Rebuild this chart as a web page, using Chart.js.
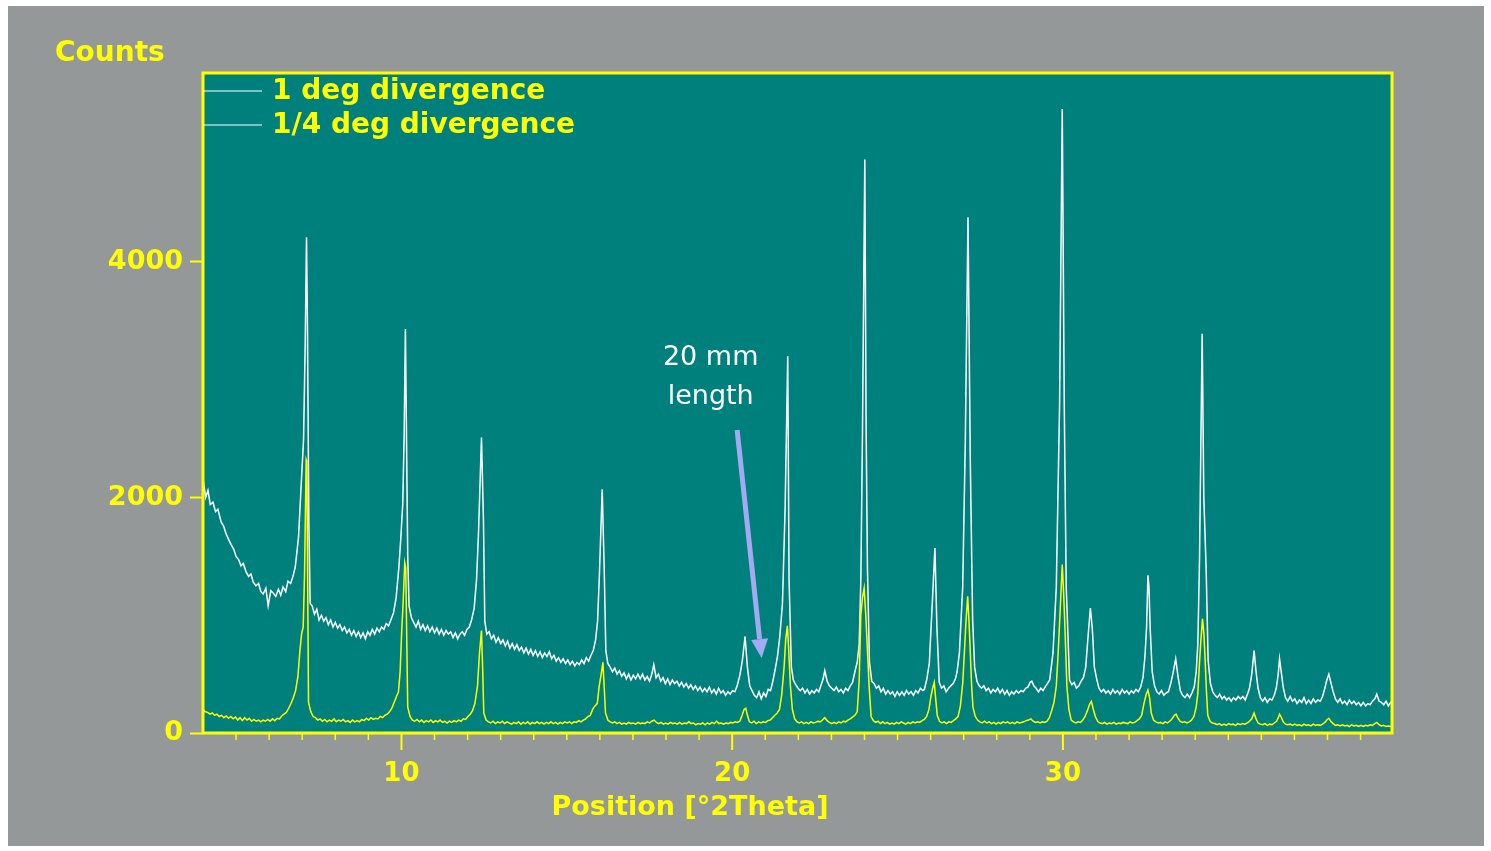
<!DOCTYPE html>
<html>
<head>
<meta charset="utf-8">
<title>XRD divergence comparison</title>
<script src="https://cdn.jsdelivr.net/npm/chart.js@4.4.1/dist/chart.umd.min.js"></script>
<style>
  html, body { margin: 0; padding: 0; background: #ffffff; }
  canvas { display: block; }
</style>
</head>
<body>
<canvas id="xrd" width="1491" height="851" style="width:1491px;height:851px"></canvas>
<script>
// Series names
const seriesLabels = ['1 deg divergence', '1/4 deg divergence'];

// Diffraction pattern, 1 deg divergence slit: [position °2θ, counts]
const oneDegree = [
  [4.00,2160],[4.08,2000],[4.15,2060],[4.22,1940],[4.30,1960],[4.38,1880],[4.45,1900],[4.55,1790],[4.62,1760],[4.70,1690],
  [4.78,1640],[4.85,1600],[4.93,1560],[5.00,1500],[5.08,1470],[5.15,1420],[5.22,1440],[5.30,1370],[5.38,1330],[5.45,1350],
  [5.52,1280],[5.60,1250],[5.68,1270],[5.75,1200],[5.82,1180],[5.90,1230],[5.97,1080],[6.05,1210],[6.12,1190],[6.20,1160],
  [6.28,1220],[6.35,1170],[6.42,1240],[6.50,1200],[6.57,1290],[6.65,1270],[6.72,1330],[6.79,1410],[6.89,1670],[6.96,2060],
  [7.04,2490],[7.09,3300],[7.13,4210],[7.16,3400],[7.20,1800],[7.24,1100],
  [7.30,1080],[7.37,1010],[7.44,1050],[7.51,960],[7.58,1000],[7.65,950],[7.72,980],[7.79,920],[7.86,960],[7.93,900],
  [8.00,940],[8.07,890],[8.14,920],[8.21,870],[8.28,900],[8.35,850],[8.42,880],[8.49,830],[8.56,870],[8.63,820],
  [8.70,860],[8.77,810],[8.84,850],[8.91,800],[8.98,860],[9.05,830],[9.12,880],[9.19,840],[9.26,890],[9.33,860],
  [9.40,900],[9.47,880],[9.54,930],[9.61,910],[9.68,960],[9.76,1020],[9.84,1150],[9.92,1400],[9.98,1650],[10.04,1950],
  [10.08,2500],[10.12,3430],[10.15,2600],[10.19,1500],[10.23,1080],[10.30,980],
  [10.37,940],[10.44,900],[10.51,950],[10.58,880],[10.65,920],[10.72,870],[10.79,910],[10.86,860],[10.93,900],[11.00,850],
  [11.07,890],[11.14,840],[11.21,880],[11.28,830],[11.35,870],[11.42,840],[11.49,860],[11.56,810],[11.63,850],[11.70,800],
  [11.77,840],[11.84,860],[11.91,830],[11.98,880],[12.05,900],[12.12,960],[12.20,1060],[12.27,1300],[12.33,1700],[12.42,2510],
  [12.48,1800],[12.52,950],[12.58,840],[12.65,860],[12.72,800],[12.79,830],[12.86,770],[12.93,810],[13.00,760],[13.07,790],
  [13.14,740],[13.21,780],[13.28,720],[13.35,760],[13.42,710],[13.49,750],[13.56,700],[13.63,730],[13.70,680],[13.77,720],
  [13.84,670],[13.91,710],[13.98,660],[14.05,700],[14.12,650],[14.19,690],[14.26,640],[14.33,680],[14.40,650],[14.47,690],
  [14.54,630],[14.61,660],[14.68,610],[14.75,640],[14.82,600],[14.89,630],[14.96,590],[15.03,620],[15.10,580],[15.17,610],
  [15.24,570],[15.31,600],[15.38,580],[15.45,620],[15.52,590],[15.59,640],[15.66,610],[15.73,660],[15.80,700],[15.87,790],
  [15.93,950],[15.99,1380],[16.07,2070],[16.13,1400],[16.18,700],[16.24,590],[16.31,560],[16.38,520],[16.45,550],[16.52,500],
  [16.59,530],[16.66,480],[16.73,510],[16.80,460],[16.87,500],[16.94,450],[17.01,490],[17.08,460],[17.15,500],[17.22,460],
  [17.29,500],[17.36,450],[17.43,480],[17.50,440],[17.57,500],[17.63,580],[17.70,470],[17.77,500],[17.84,440],[17.91,470],
  [17.98,420],[18.05,460],[18.12,410],[18.19,450],[18.26,420],[18.33,440],[18.40,400],[18.47,430],[18.54,390],[18.61,420],
  [18.68,380],[18.75,410],[18.82,370],[18.89,400],[18.96,360],[19.03,390],[19.10,350],[19.17,380],[19.24,350],[19.31,390],
  [19.38,340],[19.45,370],[19.52,330],[19.59,380],[19.66,340],[19.73,360],[19.80,320],[19.87,350],[19.94,330],[20.01,360],
  [20.08,350],[20.15,400],[20.24,500],[20.31,620],[20.39,820],[20.46,560],[20.53,400],[20.60,360],[20.67,320],[20.74,300],
  [20.81,350],[20.88,290],[20.95,340],[21.02,310],[21.09,370],[21.16,360],[21.23,440],[21.30,540],[21.37,650],[21.44,820],
  [21.52,1100],[21.60,1900],[21.68,3200],[21.72,1300],[21.79,560],[21.85,450],[21.92,410],[21.99,380],[22.06,360],[22.13,380],
  [22.20,340],[22.27,370],[22.34,330],[22.41,360],[22.48,340],[22.55,370],[22.62,350],[22.69,410],[22.75,460],[22.80,530],
  [22.87,440],[22.94,400],[23.01,380],[23.08,360],[23.15,390],[23.22,350],[23.29,370],[23.36,340],[23.43,380],[23.50,360],
  [23.57,400],[23.64,430],[23.71,520],[23.78,600],[23.84,750],[23.89,1300],[23.94,2570],[24.01,4870],[24.05,2600],[24.09,1400],
  [24.15,600],[24.22,440],[24.29,420],[24.36,380],[24.43,400],[24.50,350],[24.57,380],[24.64,330],[24.71,360],[24.78,330],
  [24.85,350],[24.92,310],[24.99,350],[25.06,320],[25.13,350],[25.20,320],[25.27,360],[25.34,330],[25.41,350],[25.48,320],
  [25.55,360],[25.62,340],[25.69,380],[25.76,360],[25.81,370],[25.88,450],[25.96,590],[26.06,1160],[26.13,1570],[26.19,900],
  [26.26,430],[26.33,380],[26.40,400],[26.47,350],[26.54,380],[26.61,400],[26.68,420],[26.75,460],[26.80,520],[26.87,680],
  [26.97,1240],[27.05,2500],[27.13,4380],[27.20,2300],[27.27,960],[27.33,560],[27.40,440],[27.47,400],[27.54,380],[27.61,400],
  [27.68,360],[27.75,380],[27.82,340],[27.89,370],[27.96,350],[28.03,380],[28.10,340],[28.17,370],[28.24,330],[28.31,360],
  [28.38,320],[28.45,350],[28.52,330],[28.59,360],[28.66,340],[28.73,360],[28.80,350],[28.87,380],[28.94,390],[29.01,430],
  [29.06,440],[29.12,400],[29.19,380],[29.26,350],[29.33,380],[29.40,360],[29.46,390],[29.53,420],[29.60,450],[29.70,680],
  [29.80,1240],[29.90,2800],[29.98,5300],[30.04,2800],[30.10,1240],[30.20,450],[30.27,410],[30.34,430],[30.41,380],[30.48,400],
  [30.55,440],[30.62,470],[30.69,560],[30.76,820],[30.83,1060],[30.89,880],[30.95,560],[31.02,460],[31.09,380],[31.16,350],
  [31.23,370],[31.30,340],[31.37,360],[31.44,330],[31.51,370],[31.58,340],[31.65,360],[31.72,330],[31.79,370],[31.86,340],
  [31.93,360],[32.00,330],[32.07,360],[32.14,340],[32.21,370],[32.28,350],[32.35,390],[32.42,470],[32.48,650],[32.53,900],
  [32.57,1340],[32.60,1250],[32.64,880],[32.70,520],[32.77,400],[32.84,350],[32.91,330],[32.98,360],[33.05,320],[33.12,340],
  [33.19,350],[33.26,420],[33.33,510],[33.41,630],[33.48,480],[33.55,360],[33.62,320],[33.69,300],[33.76,330],[33.83,300],
  [33.90,340],[33.97,390],[34.03,520],[34.08,760],[34.13,1470],[34.21,3390],[34.26,2000],[34.33,1400],[34.39,620],[34.46,420],
  [34.53,350],[34.60,320],[34.67,300],[34.74,330],[34.81,290],[34.88,310],[34.95,280],[35.02,300],[35.09,270],[35.16,300],
  [35.23,280],[35.30,310],[35.37,290],[35.44,310],[35.51,280],[35.58,330],[35.64,380],[35.71,500],[35.78,700],[35.84,520],
  [35.90,380],[35.97,300],[36.04,270],[36.11,300],[36.18,260],[36.25,290],[36.32,280],[36.39,320],[36.45,380],[36.51,500],
  [36.55,630],[36.60,520],[36.66,390],[36.73,300],[36.80,270],[36.87,310],[36.94,270],[37.01,290],[37.08,250],[37.15,280],
  [37.22,260],[37.29,300],[37.36,250],[37.43,280],[37.50,250],[37.57,290],[37.64,260],[37.71,280],[37.78,270],[37.85,310],
  [37.92,380],[37.98,450],[38.04,500],[38.10,430],[38.17,350],[38.24,290],[38.31,260],[38.38,290],[38.45,250],[38.52,270],
  [38.59,240],[38.66,280],[38.73,250],[38.80,270],[38.87,240],[38.94,260],[39.01,230],[39.08,260],[39.15,230],[39.22,250],
  [39.29,240],[39.36,270],[39.43,290],[39.49,330],[39.56,270],[39.63,260],[39.70,240],[39.77,270],[39.84,230],[39.91,260],
  [40.00,250]
];

// Diffraction pattern, 1/4 deg divergence slit: [position °2θ, counts]
const quarterDegree = [
  [4.00,200],[4.07,180],[4.14,175],[4.21,160],[4.28,170],[4.35,150],[4.42,160],[4.49,140],[4.56,150],[4.63,130],
  [4.70,145],[4.77,125],[4.84,140],[4.91,120],[4.98,135],[5.05,110],[5.12,130],[5.19,105],[5.26,130],[5.33,110],
  [5.40,125],[5.47,100],[5.54,115],[5.61,100],[5.68,110],[5.75,95],[5.82,110],[5.89,100],[5.96,115],[6.03,100],
  [6.10,120],[6.17,105],[6.24,125],[6.31,120],[6.38,145],[6.45,160],[6.52,175],[6.59,210],[6.66,250],[6.73,300],
  [6.80,360],[6.87,480],[6.93,700],[6.98,840],[7.03,900],[7.07,1350],[7.12,2320],[7.14,2300],[7.19,260],[7.26,180],
  [7.33,140],[7.40,130],[7.47,110],[7.54,120],[7.61,100],[7.68,115],[7.75,95],[7.82,110],[7.89,100],[7.96,120],
  [8.03,95],[8.10,110],[8.17,100],[8.24,115],[8.31,95],[8.38,105],[8.45,90],[8.52,110],[8.59,95],[8.66,105],
  [8.73,95],[8.80,115],[8.87,105],[8.94,125],[9.01,110],[9.08,130],[9.15,115],[9.22,125],[9.29,120],[9.36,140],
  [9.43,130],[9.50,150],[9.57,160],[9.64,180],[9.71,210],[9.78,260],[9.85,310],[9.91,350],[9.96,520],[10.01,880],
  [10.05,1100],[10.10,1445],[10.13,1400],[10.19,220],[10.26,140],[10.33,110],[10.40,100],[10.47,115],[10.54,95],[10.61,110],
  [10.68,90],[10.75,105],[10.82,95],[10.89,110],[10.96,90],[11.03,105],[11.10,95],[11.17,110],[11.24,90],[11.31,100],
  [11.38,85],[11.45,100],[11.52,90],[11.59,105],[11.66,95],[11.73,110],[11.80,100],[11.87,120],[11.94,115],[12.01,140],
  [12.08,160],[12.15,190],[12.22,250],[12.30,400],[12.36,680],[12.42,870],[12.45,600],[12.49,170],[12.56,110],[12.63,95],
  [12.70,85],[12.77,100],[12.84,80],[12.91,95],[12.98,85],[13.05,100],[13.12,80],[13.19,95],[13.26,85],[13.33,75],
  [13.40,90],[13.47,80],[13.54,95],[13.61,75],[13.68,90],[13.75,80],[13.82,95],[13.89,75],[13.96,90],[14.03,80],
  [14.10,95],[14.17,80],[14.24,90],[14.31,75],[14.38,90],[14.45,80],[14.52,95],[14.59,80],[14.66,90],[14.73,75],
  [14.80,90],[14.87,80],[14.94,95],[15.01,85],[15.08,95],[15.15,80],[15.22,95],[15.29,90],[15.36,105],[15.43,95],
  [15.50,110],[15.57,120],[15.64,140],[15.71,150],[15.78,200],[15.85,230],[15.92,250],[15.98,400],[16.04,500],[16.09,600],
  [16.12,450],[16.17,170],[16.24,110],[16.31,95],[16.38,85],[16.45,95],[16.52,80],[16.59,90],[16.66,75],[16.73,85],
  [16.80,75],[16.87,90],[16.94,80],[17.01,85],[17.08,75],[17.15,90],[17.22,80],[17.29,85],[17.36,80],[17.43,95],
  [17.50,85],[17.57,100],[17.64,110],[17.71,90],[17.78,80],[17.85,90],[17.92,75],[17.99,85],[18.06,75],[18.13,90],
  [18.20,80],[18.27,85],[18.34,75],[18.41,90],[18.48,75],[18.55,85],[18.62,80],[18.69,95],[18.76,80],[18.83,85],
  [18.90,70],[18.97,80],[19.04,75],[19.11,85],[19.18,70],[19.25,85],[19.32,75],[19.39,90],[19.46,80],[19.53,100],
  [19.60,80],[19.67,85],[19.74,75],[19.81,85],[19.88,80],[19.95,90],[20.02,85],[20.09,95],[20.16,90],[20.23,100],
  [20.30,150],[20.36,200],[20.41,210],[20.46,150],[20.52,95],[20.59,85],[20.66,100],[20.73,80],[20.80,95],[20.87,85],
  [20.94,95],[21.01,90],[21.08,105],[21.15,110],[21.22,130],[21.29,150],[21.36,170],[21.43,200],[21.50,330],[21.57,560],
  [21.62,800],[21.67,910],[21.71,700],[21.76,400],[21.82,200],[21.89,120],[21.96,95],[22.03,85],[22.10,95],[22.17,80],
  [22.24,90],[22.31,80],[22.38,95],[22.45,85],[22.52,90],[22.59,100],[22.66,95],[22.73,110],[22.80,130],[22.87,105],
  [22.94,90],[23.01,80],[23.08,90],[23.15,80],[23.22,95],[23.29,85],[23.36,100],[23.43,95],[23.50,110],[23.57,120],
  [23.64,135],[23.71,150],[23.78,180],[23.84,450],[23.89,1000],[23.94,1150],[23.99,1230],[24.04,1000],[24.09,700],[24.14,400],
  [24.20,140],[24.27,105],[24.34,90],[24.41,100],[24.48,80],[24.55,95],[24.62,80],[24.69,90],[24.76,75],[24.83,85],
  [24.90,75],[24.97,90],[25.04,80],[25.11,95],[25.18,85],[25.25,75],[25.32,90],[25.39,80],[25.46,95],[25.53,85],
  [25.60,95],[25.67,90],[25.74,105],[25.81,115],[25.88,140],[25.95,200],[26.01,310],[26.06,380],[26.11,430],[26.15,300],
  [26.20,150],[26.27,100],[26.34,85],[26.41,95],[26.48,80],[26.55,95],[26.62,90],[26.69,105],[26.76,120],[26.83,140],
  [26.90,230],[26.97,420],[27.02,680],[27.07,950],[27.12,1160],[27.16,950],[27.20,680],[27.24,400],[27.28,220],[27.35,140],
  [27.42,110],[27.49,95],[27.56,85],[27.63,100],[27.70,85],[27.77,95],[27.84,80],[27.91,90],[27.98,75],[28.05,90],
  [28.12,80],[28.19,95],[28.26,85],[28.33,95],[28.40,80],[28.47,90],[28.54,80],[28.61,95],[28.68,85],[28.75,90],
  [28.82,95],[28.89,105],[28.96,110],[29.03,120],[29.10,100],[29.17,90],[29.24,95],[29.31,85],[29.38,95],[29.45,90],
  [29.52,100],[29.59,130],[29.66,190],[29.73,260],[29.80,400],[29.86,700],[29.91,1000],[29.98,1430],[30.02,1200],[30.06,900],
  [30.12,400],[30.18,200],[30.25,110],[30.32,95],[30.39,85],[30.46,95],[30.53,90],[30.60,110],[30.67,140],[30.74,190],
  [30.80,240],[30.86,270],[30.92,200],[30.98,140],[31.05,100],[31.12,85],[31.19,80],[31.26,90],[31.33,75],[31.40,85],
  [31.47,80],[31.54,90],[31.61,75],[31.68,85],[31.75,80],[31.82,90],[31.89,85],[31.96,80],[32.03,95],[32.10,85],
  [32.17,90],[32.24,105],[32.31,120],[32.38,150],[32.45,250],[32.52,330],[32.57,365],[32.62,300],[32.67,170],[32.74,110],
  [32.81,95],[32.88,85],[32.95,90],[33.02,80],[33.09,95],[33.16,85],[33.23,100],[33.30,120],[33.37,150],[33.42,160],
  [33.47,130],[33.54,100],[33.61,90],[33.68,95],[33.75,85],[33.82,95],[33.89,110],[33.96,140],[34.03,220],[34.08,340],
  [34.13,600],[34.17,780],[34.22,970],[34.26,850],[34.30,620],[34.34,350],[34.38,150],[34.45,100],[34.52,85],[34.59,80],
  [34.66,70],[34.73,80],[34.80,65],[34.87,75],[34.94,65],[35.01,80],[35.08,70],[35.15,75],[35.22,65],[35.29,80],
  [35.36,70],[35.43,80],[35.50,75],[35.57,85],[35.64,100],[35.71,120],[35.78,170],[35.84,120],[35.90,85],[35.97,75],
  [36.04,70],[36.11,80],[36.18,65],[36.25,75],[36.32,70],[36.39,85],[36.46,100],[36.51,130],[36.55,160],[36.60,135],
  [36.66,95],[36.73,75],[36.80,70],[36.87,75],[36.94,65],[37.01,75],[37.08,65],[37.15,70],[37.22,60],[37.29,75],
  [37.36,65],[37.43,70],[37.50,60],[37.57,75],[37.64,65],[37.71,70],[37.78,65],[37.85,75],[37.92,90],[37.98,110],
  [38.04,125],[38.10,100],[38.17,80],[38.24,65],[38.31,70],[38.38,60],[38.45,70],[38.52,60],[38.59,65],[38.66,55],
  [38.73,70],[38.80,60],[38.87,65],[38.94,55],[39.01,65],[39.08,55],[39.15,65],[39.22,60],[39.29,70],[39.36,65],
  [39.43,80],[39.49,90],[39.56,70],[39.63,60],[39.70,65],[39.77,55],[39.84,60],[39.91,55],[40.00,55]
];

// Axis ticks
const countTicks = [0, 2000, 4000];
const angleLabels = [10, 20, 30];

// Callout: text anchor and arrow ends, in data units
const calloutLines = ['20 mm', 'length'];
const calloutText = { x: 19.35, y: [3185, 2853] };
const calloutArrow = { from: [20.15, 2573], to: [20.89, 637] };

const YELLOW = '#ffff00';
const TEAL = '#00807c';
const PANEL = '#949898';
const ARROW = '#a4a9f3';
const FONT = "'DejaVu Sans', 'Liberation Sans', sans-serif";

Chart.defaults.font.family = FONT;

const toXY = pts => pts.map(p => ({ x: p[0], y: p[1] }));

const decorations = {
  id: 'decorations',
  beforeDraw(chart) {
    const { ctx, chartArea: a } = chart;
    ctx.save();
    ctx.fillStyle = '#ffffff';
    ctx.fillRect(0, 0, chart.width, chart.height);
    ctx.fillStyle = PANEL;
    ctx.fillRect(8, 6, 1476, 840);
    ctx.fillStyle = TEAL;
    ctx.fillRect(a.left, a.top, a.right - a.left, a.bottom - a.top);
    ctx.restore();
  },
  afterDatasetsDraw(chart) {
    const { ctx, chartArea: a } = chart;
    const xs = chart.scales.x, ys = chart.scales.y;
    ctx.save();

    // plot frame
    ctx.strokeStyle = YELLOW;
    ctx.lineWidth = 3;
    ctx.strokeRect(a.left, a.top, a.right - a.left, a.bottom - a.top);

    // degree ticks below the frame: long at labelled decades, short elsewhere
    xs.ticks.forEach(t => {
      const px = xs.getPixelForValue(t.value);
      if (px <= a.left + 3 || px >= a.right - 3) return;
      const major = angleLabels.includes(t.value);
      ctx.lineWidth = major ? 2 : 1.5;
      ctx.beginPath();
      ctx.moveTo(px, a.bottom);
      ctx.lineTo(px, a.bottom + (major ? 17 : 7));
      ctx.stroke();
    });

    // legend in the top-left corner of the plot
    ctx.font = `bold 28px ${FONT}`;
    ctx.textBaseline = 'middle';
    ctx.textAlign = 'left';
    const rows = [91, 125];
    chart.data.datasets.forEach((ds, i) => {
      const y = rows[i];
      ctx.strokeStyle = '#ffffff';
      ctx.lineWidth = 1.2;
      ctx.beginPath();
      ctx.moveTo(a.left, y);
      ctx.lineTo(a.left + 59, y);
      ctx.stroke();
      ctx.fillStyle = YELLOW;
      ctx.fillText(ds.label, a.left + 69, y + 1);
    });

    // axis titles
    ctx.fillStyle = YELLOW;
    ctx.font = `bold 28px ${FONT}`;
    ctx.textAlign = 'left';
    ctx.fillText('Counts', 55, 54);
    ctx.textAlign = 'center';
    ctx.font = `bold 27px ${FONT}`;
    ctx.fillText('Position [°2Theta]', 690, 808);

    // callout text
    ctx.fillStyle = '#ffffff';
    ctx.font = `27px ${FONT}`;
    ctx.textAlign = 'center';
    calloutLines.forEach((line, i) => {
      ctx.fillText(line, xs.getPixelForValue(calloutText.x), ys.getPixelForValue(calloutText.y[i]));
    });

    // callout arrow
    const x1 = xs.getPixelForValue(calloutArrow.from[0]), y1 = ys.getPixelForValue(calloutArrow.from[1]);
    const x2 = xs.getPixelForValue(calloutArrow.to[0]), y2 = ys.getPixelForValue(calloutArrow.to[1]);
    const ang = Math.atan2(y2 - y1, x2 - x1);
    const headLen = 19, headHalf = 8.5;
    const bx = x2 - headLen * Math.cos(ang), by = y2 - headLen * Math.sin(ang);
    ctx.strokeStyle = ARROW;
    ctx.fillStyle = ARROW;
    ctx.lineWidth = 5;
    ctx.lineCap = 'butt';
    ctx.beginPath();
    ctx.moveTo(x1, y1);
    ctx.lineTo(bx, by);
    ctx.stroke();
    ctx.beginPath();
    ctx.moveTo(x2, y2);
    ctx.lineTo(bx + headHalf * Math.sin(ang), by - headHalf * Math.cos(ang));
    ctx.lineTo(bx - headHalf * Math.sin(ang), by + headHalf * Math.cos(ang));
    ctx.closePath();
    ctx.fill();

    ctx.restore();
  }
};

new Chart(document.getElementById('xrd'), {
  type: 'line',
  data: {
    datasets: [
      {
        label: seriesLabels[0],
        data: toXY(oneDegree),
        borderColor: '#ffffff',
        borderWidth: 1.5,
        pointRadius: 0,
        tension: 0,
        order: 2
      },
      {
        label: seriesLabels[1],
        data: toXY(quarterDegree),
        borderColor: YELLOW,
        borderWidth: 1.5,
        pointRadius: 0,
        tension: 0,
        order: 1
      }
    ]
  },
  options: {
    responsive: false,
    animation: false,
    devicePixelRatio: 1,
    events: [],
    layout: { padding: { top: 73, right: 99, left: 0, bottom: 0 } },
    plugins: { legend: { display: false }, tooltip: { enabled: false }, title: { display: false } },
    scales: {
      x: {
        type: 'linear',
        min: 4,
        max: 39.95,
        afterFit: s => { s.height = 118; },
        border: { display: false },
        grid: {
          drawOnChartArea: false,
          drawTicks: true,
          tickLength: 17,
          tickWidth: 0,
          tickColor: 'rgba(0,0,0,0)'
        },
        ticks: {
          stepSize: 1,
          autoSkip: false,
          includeBounds: false,
          maxRotation: 0,
          minRotation: 0,
          padding: 9,
          color: YELLOW,
          font: { family: FONT, size: 26, weight: 'bold' },
          callback: v => angleLabels.includes(v) ? String(v) : ''
        }
      },
      y: {
        type: 'linear',
        min: 0,
        max: 5605,
        afterFit: s => { s.width = 203; },
        afterBuildTicks: s => { s.ticks = countTicks.map(value => ({ value })); },
        border: { display: false },
        grid: {
          drawOnChartArea: false,
          drawTicks: true,
          tickLength: 13,
          tickWidth: 2,
          tickColor: YELLOW
        },
        ticks: {
          padding: 7,
          color: YELLOW,
          font: { family: FONT, size: 27, weight: 'bold' },
          callback: v => String(v)
        }
      }
    }
  },
  plugins: [decorations]
});
</script>
</body>
</html>
